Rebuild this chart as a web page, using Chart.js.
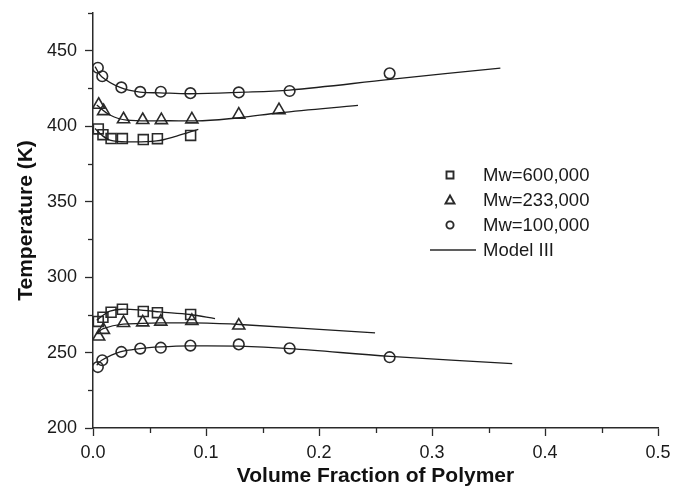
<!DOCTYPE html>
<html lang="en">
<head>
  <meta charset="UTF-8">
  <title>Temperature vs Volume Fraction of Polymer</title>
  <script src="https://cdn.jsdelivr.net/npm/chart.js"></script>
  <style>
    html, body { margin: 0; padding: 0; background: #ffffff; }
    .wrap { width: 673px; height: 490px; position: relative; }
  </style>
</head>
<body>
  <div class="wrap"><canvas id="chart"></canvas></div>

  <script>
    // measured points (volume fraction, temperature K)
    const phi600 = [0.0047, 0.0088, 0.016, 0.026, 0.0445, 0.057, 0.0864];
    const tUp600 = [398.2, 394.4, 391.8, 391.8, 391.1, 391.7, 393.9];
    const tLow600 = [270.6, 273.4, 276.7, 278.7, 277.2, 276.4, 275.2];

    const phi233Up = [0.005, 0.0094, 0.027, 0.044, 0.0605, 0.0875, 0.129, 0.1646];
    const tUp233 = [414.2, 410.0, 404.6, 404.1, 404.0, 404.5, 407.6, 410.6];
    const phi233Low = [0.005, 0.0092, 0.027, 0.044, 0.060, 0.0875, 0.129];
    const tLow233 = [260.6, 265.0, 269.6, 270.0, 270.5, 271.0, 267.9];

    const phi100 = [0.0043, 0.0082, 0.0251, 0.0418, 0.060, 0.0862, 0.129, 0.174, 0.2625];
    const tUp100 = [438.7, 433.1, 425.7, 422.7, 422.8, 421.9, 422.4, 423.3, 435.0];
    const tLow100 = [240.4, 244.9, 250.4, 252.6, 253.2, 254.6, 255.4, 252.8, 246.9];

    // Model III curves
    const modelUp600X = [0.0018, 0.0077, 0.015, 0.0298, 0.0563, 0.074, 0.0932];
    const modelUp600Y = [398.5, 394.1, 390.8, 389.6, 390.2, 393.4, 397.9];
    const modelLow600X = [0.0033, 0.009, 0.015, 0.0254, 0.0445, 0.0593, 0.0858, 0.108];
    const modelLow600Y = [271.4, 274.7, 277.4, 278.7, 278.0, 276.9, 275.2, 272.5];
    const modelUp233X = [0.0033, 0.015, 0.0298, 0.068, 0.097, 0.130, 0.165, 0.2345];
    const modelUp233Y = [414.0, 407.4, 404.0, 403.6, 403.6, 405.6, 408.9, 413.8];
    const modelLow233X = [0.0033, 0.009, 0.0268, 0.0593, 0.0888, 0.130, 0.2496];
    const modelLow233Y = [262.6, 265.9, 268.8, 269.6, 269.6, 268.6, 263.0];
    const modelUp100X = [0.0018, 0.0077, 0.024, 0.0416, 0.0593, 0.0858, 0.129, 0.174, 0.263, 0.3605];
    const modelUp100Y = [439.4, 432.8, 425.7, 422.6, 422.1, 421.5, 422.4, 423.9, 431.0, 438.5];
    const modelLow100X = [0.0033, 0.0077, 0.024, 0.0416, 0.0593, 0.0858, 0.129, 0.174, 0.263, 0.371];
    const modelLow100Y = [241.6, 244.9, 250.4, 252.6, 253.7, 254.4, 254.2, 252.6, 247.5, 242.7];

    const legendLabels = ['Mw=600,000', 'Mw=233,000', 'Mw=100,000', 'Model III'];
    const legendStyles = ['rect', 'triangle', 'circle', 'line'];

    const INK = '#2a2a2a';
    const FONT = "'Liberation Sans', Arial, sans-serif";

    function pts(xs, ys) { return xs.map((x, i) => ({ x, y: ys[i] })); }

    function markers(xs, ys, style, r) {
      return {
        type: 'scatter', data: pts(xs, ys), showLine: false,
        pointStyle: style, pointRadius: r, pointHoverRadius: r,
        pointBorderColor: INK, pointBackgroundColor: 'transparent', pointBorderWidth: 1.6
      };
    }
    function model(xs, ys) {
      return {
        type: 'line', data: pts(xs, ys), showLine: true, pointRadius: 0,
        borderColor: '#1e1e1e', borderWidth: 1.3, tension: 0.35, fill: false
      };
    }

    const isMajorY = v => Math.round(v) % 50 === 0;
    const isMajorX = v => Math.round(v * 100) % 10 === 0;

    // short minor ticks + custom legend
    const extras = {
      id: 'extras',
      afterDraw(chart) {
        const c = chart.ctx;
        const xs = chart.scales.x, ys = chart.scales.y;
        const a = chart.chartArea;
        c.save();
        c.strokeStyle = INK;
        c.lineWidth = 1.3;
        ys.ticks.forEach(t => {
          if (isMajorY(t.value)) return;
          const py = Math.round(ys.getPixelForValue(t.value)) + 0.5;
          c.beginPath(); c.moveTo(a.left - 5, py); c.lineTo(a.left, py); c.stroke();
        });
        xs.ticks.forEach(t => {
          if (isMajorX(t.value)) return;
          const px = Math.round(xs.getPixelForValue(t.value)) + 0.5;
          c.beginPath(); c.moveTo(px, a.bottom); c.lineTo(px, a.bottom + 5); c.stroke();
        });

        // legend
        const lx = 450, ly0 = 175, step = 25, tx = 483;
        c.font = '18.5px ' + FONT;
        c.fillStyle = '#1a1a1a';
        c.textBaseline = 'middle';
        legendLabels.forEach((lab, i) => {
          const y = ly0 + i * step;
          c.lineWidth = 1.9;
          c.strokeStyle = INK;
          c.beginPath();
          if (legendStyles[i] === 'rect') {
            c.rect(lx - 3.5, y - 3.5, 7, 7);
          } else if (legendStyles[i] === 'triangle') {
            c.moveTo(lx, y - 4.5); c.lineTo(lx + 4.5, y + 3.5); c.lineTo(lx - 4.5, y + 3.5); c.closePath();
          } else if (legendStyles[i] === 'circle') {
            c.arc(lx, y, 3.6, 0, Math.PI * 2);
          } else {
            c.lineWidth = 1.3;
            c.moveTo(430, y); c.lineTo(476, y);
          }
          c.stroke();
          c.fillText(lab, tx, y + 1);
        });
        c.restore();
      }
    };

    new Chart(document.getElementById('chart'), {
      type: 'scatter',
      data: {
        datasets: [
          model(modelUp600X, modelUp600Y),
          model(modelLow600X, modelLow600Y),
          model(modelUp233X, modelUp233Y),
          model(modelLow233X, modelLow233Y),
          model(modelUp100X, modelUp100Y),
          model(modelLow100X, modelLow100Y),
          markers(phi600, tUp600, 'rect', 7),
          markers(phi600, tLow600, 'rect', 7),
          markers(phi233Up, tUp233, 'triangle', 7),
          markers(phi233Low, tLow233, 'triangle', 7),
          markers(phi100, tUp100, 'circle', 5.3),
          markers(phi100, tLow100, 'circle', 5.3)
        ]
      },
      options: {
        responsive: true,
        maintainAspectRatio: false,
        animation: false,
        layout: { padding: { top: 13, right: 15, left: 0, bottom: 0 } },
        plugins: { legend: { display: false }, tooltip: { enabled: false } },
        scales: {
          x: {
            type: 'linear', min: 0, max: 0.5,
            afterFit: s => { s.height = 62; s.paddingLeft = 0; s.paddingRight = 0; },
            border: { display: true, color: INK, width: 1.5 },
            grid: {
              drawOnChartArea: false, tickLength: 8, tickWidth: 1.3,
              tickColor: ctx => (ctx.tick && isMajorX(ctx.tick.value)) ? INK : 'transparent'
            },
            ticks: {
              stepSize: 0.05, padding: 6, color: '#1a1a1a', maxRotation: 0, autoSkip: false,
              font: { family: FONT, size: 18 },
              callback: v => isMajorX(v) ? (Math.round(v * 10) / 10).toFixed(1) : ''
            },
            title: {
              display: true, text: 'Volume Fraction of Polymer', color: '#111',
              font: { family: FONT, size: 21, weight: 'bold' }, padding: { top: 0, bottom: 1 }
            }
          },
          y: {
            type: 'linear', min: 200, max: 475,
            afterFit: s => { s.width = 93; s.paddingTop = 0; s.paddingBottom = 0; },
            border: { display: true, color: INK, width: 1.5 },
            grid: {
              drawOnChartArea: false, tickLength: 8, tickWidth: 1.3,
              tickColor: ctx => (ctx.tick && isMajorY(ctx.tick.value)) ? INK : 'transparent'
            },
            ticks: {
              stepSize: 25, padding: 8, color: '#1a1a1a', autoSkip: false,
              font: { family: FONT, size: 18 },
              callback: v => isMajorY(v) ? String(v) : ''
            },
            title: {
              display: true, text: 'Temperature (K)', color: '#111',
              font: { family: FONT, size: 21, weight: 'bold' }, padding: { top: 14, bottom: 0 }
            }
          }
        }
      },
      plugins: [extras]
    });
  </script>
</body>
</html>
